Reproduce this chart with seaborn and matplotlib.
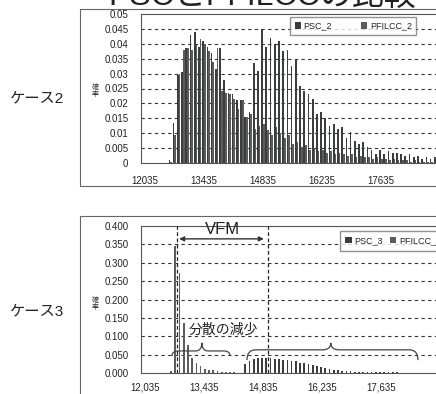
import numpy as np
import pandas as pd
import seaborn as sns
import matplotlib.pyplot as plt
from matplotlib.path import Path
from matplotlib.patches import PathPatch, Rectangle
from matplotlib.ticker import FormatStrFormatter

# 階級（100刻み、12035から）
bins = [str(12035 + 100 * i) for i in range(80)]

psc_2 = [0, 0, 0, 0, 0, 0, 0.001, 0.0135, 0.0295, 0.0305,
         0.0385, 0.043, 0.044, 0.039, 0.041, 0.039, 0.037, 0.0315, 0.0385, 0.028,
         0.0235, 0.023, 0.021, 0.021, 0.0155, 0.017, 0.0335, 0.031, 0.045, 0.039,
         0.042, 0.040, 0.041, 0.0375, 0.038, 0.0325, 0.035, 0.026, 0.024, 0.023,
         0.0215, 0.0165, 0.017, 0.015, 0.0125, 0.013, 0.0115, 0.012, 0.0085, 0.0105,
         0.0075, 0.0065, 0.007, 0.0055, 0.0045, 0.003, 0.0045, 0.003, 0.004, 0.0035,
         0.0035, 0.003, 0.0025, 0.003, 0.002, 0.0025, 0.0015, 0.002, 0.0015, 0.002,
         0.001, 0.0015, 0.001, 0.001, 0.0005, 0.001, 0.0005, 0.0005, 0.0005, 0.0005]

pfilcc_2 = [0, 0, 0, 0, 0, 0, 0.0005, 0.0095, 0.030, 0.038,
            0.0385, 0.038, 0.0395, 0.0415, 0.040, 0.0375, 0.034, 0.0385, 0.024, 0.0235,
            0.023, 0.0215, 0.018, 0.021, 0.0155, 0.0165, 0.0115, 0.0125, 0.013, 0.011,
            0.0095, 0.012, 0.010, 0.0085, 0.0095, 0.0065, 0.007, 0.0055, 0.006, 0.0045,
            0.005, 0.004, 0.0045, 0.0035, 0.004, 0.003, 0.0035, 0.003, 0.0025, 0.003,
            0.002, 0.0025, 0.002, 0.002, 0.0015, 0.002, 0.0015, 0.0015, 0.001, 0.0015,
            0.001, 0.001, 0.001, 0.0005, 0.001, 0.0005, 0.0005, 0.0005, 0.0005, 0.0005,
            0, 0, 0, 0, 0, 0, 0, 0, 0, 0]

psc_3 = [0, 0, 0, 0, 0, 0, 0, 0, 0, 0,
         0, 0, 0, 0, 0, 0, 0, 0, 0, 0,
         0, 0, 0, 0, 0.025, 0.032, 0.037, 0.040, 0.041, 0.040,
         0.040, 0.038, 0.039, 0.036, 0.035, 0.033, 0.032, 0.028, 0.026, 0.024,
         0.021, 0.019, 0.016, 0.013, 0.011, 0.009, 0.008, 0.006, 0.005, 0.005,
         0.004, 0.004, 0.003, 0.003, 0.002, 0.002, 0.002, 0.002, 0.0015, 0.0015,
         0.0015, 0.001, 0.001, 0.001, 0.001, 0.001, 0.001, 0.001, 0.0005, 0.0005,
         0.0005, 0.0005, 0.0005, 0.0005, 0, 0, 0, 0, 0, 0]

pfilcc_3 = [0, 0, 0, 0, 0, 0, 0.005, 0.345, 0.272, 0.135,
            0.075, 0.042, 0.028, 0.018, 0.012, 0.009, 0.007, 0.005, 0.004, 0.003,
            0.002, 0.002, 0.001, 0.001, 0, 0, 0, 0, 0, 0,
            0, 0, 0, 0, 0, 0, 0, 0, 0, 0,
            0, 0, 0, 0, 0, 0, 0, 0, 0, 0,
            0, 0, 0, 0, 0, 0, 0, 0, 0, 0,
            0, 0, 0, 0, 0, 0, 0, 0, 0, 0,
            0, 0, 0, 0, 0, 0, 0, 0, 0, 0]

xtick_pos = [0, 14, 28, 42, 56]
xlabels_2 = ['12035', '13435', '14835', '16235', '17635']
xlabels_3 = ['12,035', '13,435', '14,835', '16,235', '17,635']
yticks_2 = [0, 0.005, 0.01, 0.015, 0.02, 0.025, 0.03, 0.035, 0.04, 0.045, 0.05]
yticks_3 = [0, 0.05, 0.1, 0.15, 0.2, 0.25, 0.3, 0.35, 0.4]

# ケース3の平均位置（階級インデックス）
pfilcc_mean_3 = 7.6
psc_mean_3 = 29.2

sns.set_theme(style='white')
plt.rcParams['font.family'] = ['Liberation Sans', 'Noto Sans CJK JP', 'DejaVu Sans']

W, H = 436, 394
fig = plt.figure(figsize=(W / 100, H / 100), dpi=100)
fig.patch.set_facecolor('white')

colors = ['#3a3f3c', '#5c5c5c']


def draw_case(ax, psc, pfilcc, names, yticks, xlabels, yfmt, xpad):
    df = pd.DataFrame({'bin': bins * 2,
                       'prob': psc + pfilcc,
                       'series': [names[0]] * len(bins) + [names[1]] * len(bins)})
    sns.barplot(data=df, x='bin', y='prob', hue='series', palette=colors,
                width=0.8, linewidth=0, ax=ax)
    ax.set_xlim(-1, 80)
    ax.set_ylim(0, yticks[-1])
    ax.set_yticks(yticks)
    ax.yaxis.set_major_formatter(FormatStrFormatter(yfmt))
    ax.set_xticks(xtick_pos)
    ax.set_xticklabels(xlabels)
    ax.set_xlabel('')
    ax.set_ylabel('')
    ax.tick_params(labelsize=7, length=2, colors='#222222')
    ax.tick_params(axis='y', pad=7)
    ax.tick_params(axis='x', pad=xpad)
    for y in yticks[1:-1]:
        ax.axhline(y, color='#333333', lw=0.8, ls=(0, (3, 3)), zorder=0)
    for s in ax.spines.values():
        s.set_color('#555555')
        s.set_linewidth(0.8)
    handles, labels = ax.get_legend_handles_labels()
    ax.get_legend().remove()
    return handles, labels


def brace(ax, x0, x1, xm, y0, y1, y2, d):
    verts = [(x0, y0), (x0, y1), (x0 + d, y1),
             (xm - d, y1), (xm, y1), (xm, y2),
             (xm, y1), (xm + d, y1),
             (x1 - d, y1), (x1, y1), (x1, y0)]
    codes = [Path.MOVETO, Path.CURVE3, Path.CURVE3,
             Path.LINETO, Path.CURVE3, Path.CURVE3,
             Path.CURVE3, Path.CURVE3,
             Path.LINETO, Path.CURVE3, Path.CURVE3]
    ax.add_patch(PathPatch(Path(verts, codes), fill=False, lw=0.9,
                           ec='#444444', zorder=5))


left = 140.8 / W
width = (482 - 140.8) / W

# ケース2
ax2 = fig.add_axes([left, 1 - 163 / H, width, 149 / H])
h2, l2 = draw_case(ax2, psc_2, pfilcc_2, ['PSC_2', 'PFILCC_2'],
                   yticks_2, xlabels_2, '%g', 7)
ax2.legend(h2, l2, loc='upper left', bbox_to_anchor=(290 / W, 1 - 17 / H),
           bbox_transform=fig.transFigure, ncol=2, fontsize=6.5, frameon=True,
           fancybox=False, edgecolor='#777777', handlelength=0.7, handleheight=0.7,
           handletextpad=0.3, columnspacing=3.2, borderpad=0.5, borderaxespad=0,
           labelspacing=0.2)

# ケース3
ax3 = fig.add_axes([left, 1 - 373 / H, width, 147 / H])
h3, l3 = draw_case(ax3, psc_3, pfilcc_3, ['PSC_3', 'PFILCC_3'],
                   yticks_3, xlabels_3, '%.3f', 5)
ax3.legend(h3, l3, loc='upper left', bbox_to_anchor=(340 / W, 1 - 231 / H),
           bbox_transform=fig.transFigure, ncol=2, fontsize=6.5, frameon=True,
           fancybox=False, edgecolor='#777777', handlelength=0.7, handleheight=0.7,
           handletextpad=0.3, columnspacing=0.8, borderpad=0.6, borderaxespad=0,
           labelspacing=0.2)

for xv in [pfilcc_mean_3, psc_mean_3]:
    ax3.axvline(xv, color='#222222', lw=0.9, ls=(0, (3, 2)), zorder=4)
ax3.annotate('', xy=(pfilcc_mean_3 + 0.5, 0.365), xytext=(psc_mean_3 - 1.0, 0.365),
             arrowprops=dict(arrowstyle='<|-|>', color='#333333', lw=1.0,
                             mutation_scale=7, shrinkA=0, shrinkB=0))
ax3.text(18.3, 0.370, 'VFM', ha='center', va='bottom', fontsize=12, color='#222222')
ax3.text(18.7, 0.118, '分散の減少', ha='center', va='center', fontsize=10,
         color='#222222', zorder=6)
brace(ax3, 6.4, 20.2, 13.5, 0.046, 0.060, 0.082, 1.5)
brace(ax3, 24.2, 64.8, 44.1, 0.035, 0.063, 0.082, 2.0)

# 外枠
fig.add_artist(Rectangle((80 / W, 1 - 186 / H), 400 / W, 177 / H,
                         transform=fig.transFigure, fill=False, lw=0.8,
                         ec='#666666'))
fig.add_artist(Rectangle((80 / W, -0.05), 400 / W, 1 - 216 / H + 0.05,
                         transform=fig.transFigure, fill=False, lw=0.8,
                         ec='#666666'))

# 左側ラベル
fig.text(10 / W, 1 - 98 / H, 'ケース2', fontsize=11, va='center', ha='left',
         color='#222222')
fig.text(10 / W, 1 - 311 / H, 'ケース3', fontsize=11, va='center', ha='left',
         color='#222222')
for yy in [91, 304]:
    fig.text(95 / W, 1 - yy / H, '確\n率', fontsize=5, va='center', ha='center',
             linespacing=1.0, color='#333333')

# 上端で切れているタイトル
fig.text(262 / W, 1 - 5 / H, 'PSCとPFILCCの比較', fontsize=23, ha='center',
         va='baseline', color='#222222')

fig.savefig('out.png', dpi=100)
